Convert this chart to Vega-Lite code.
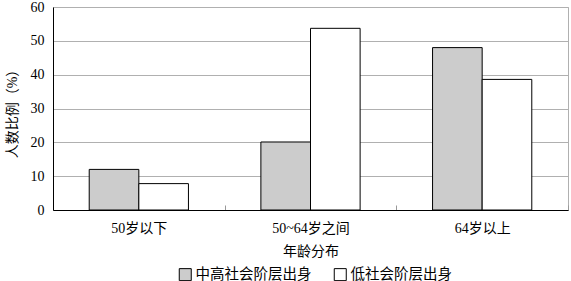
{
  "$schema": "https://vega.github.io/schema/vega-lite/v6.json",
  "autosize": {"type": "none"},
  "width": 515,
  "height": 203,
  "padding": {"left": 53, "top": 7, "right": 3, "bottom": 71},
  "config": {
    "font": "'Liberation Serif', 'Noto Sans CJK SC', serif",
    "view": {"stroke": "#b0b0b0", "strokeWidth": 1},
    "axis": {"labelFont": "'Liberation Serif', 'Noto Sans CJK SC', serif", "titleFont": "'Liberation Serif', 'Noto Sans CJK SC', serif", "labelColor": "#000", "titleColor": "#000", "titleFontWeight": "normal", "labelFontSize": 14, "titleFontSize": 14},
    "legend": {"labelFont": "'Liberation Serif', 'Noto Sans CJK SC', serif", "labelFontSize": 14.5, "labelColor": "#000"}
  },
  "data": {
    "values": [
      {"age": "50岁以下", "group": "中高社会阶层出身", "value": 12.0},
      {"age": "50岁以下", "group": "低社会阶层出身", "value": 7.8},
      {"age": "50~64岁之间", "group": "中高社会阶层出身", "value": 20.1},
      {"age": "50~64岁之间", "group": "低社会阶层出身", "value": 53.7},
      {"age": "64岁以上", "group": "中高社会阶层出身", "value": 48.0},
      {"age": "64岁以上", "group": "低社会阶层出身", "value": 38.6}
    ]
  },
  "mark": {"type": "bar", "stroke": "#000", "strokeWidth": 1},
  "encoding": {
    "x": {
      "field": "age", "type": "nominal", "sort": ["50岁以下", "50~64岁之间", "64岁以上"],
      "scale": {"paddingInner": 0, "paddingOuter": 0},
      "axis": {"title": "年龄分布", "labelAngle": 0, "domainColor": "#000", "tickColor": "#999", "tickBand": "extent", "tickSize": -5, "labelPadding": 16, "titleY": 34, "titleBaseline": "top", "grid": false}
    },
    "xOffset": {
      "field": "group", "type": "nominal", "sort": ["中高社会阶层出身", "低社会阶层出身"],
      "scale": {"paddingInner": 0, "paddingOuter": 0.73}
    },
    "y": {
      "field": "value", "type": "quantitative",
      "scale": {"domain": [0, 60], "nice": false},
      "axis": {"title": "人数比例（%）", "values": [0, 10, 20, 30, 40, 50, 60], "ticks": false, "labelPadding": 9, "domainColor": "#000", "gridColor": "#b0b0b0", "titleX": -41, "titleY": 103, "titleAlign": "center", "titleBaseline": "middle"}
    },
    "fill": {
      "field": "group", "type": "nominal", "sort": ["中高社会阶层出身", "低社会阶层出身"],
      "scale": {"range": ["#cccccc", "#ffffff"]},
      "legend": {"title": null, "orient": "none", "direction": "horizontal", "legendX": 125, "legendY": 260, "symbolType": "square", "symbolSize": 144, "symbolStrokeColor": "#000", "symbolStrokeWidth": 1, "labelOffset": 3, "columnPadding": 20}
    }
  }
}
